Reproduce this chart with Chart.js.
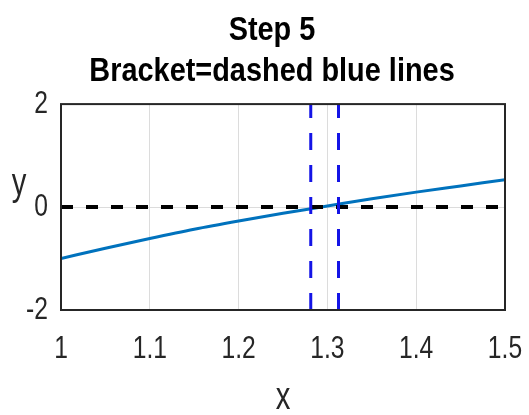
<!DOCTYPE html>
<html>
<head>
<meta charset="utf-8">
<script src="https://cdn.jsdelivr.net/npm/chart.js@4"></script>
<style>
  html, body { margin: 0; padding: 0; background: #fff; }
  #wrap { width: 529px; height: 415px; }
</style>
</head>
<body>
<div id="wrap"><canvas id="chart" width="529" height="415"></canvas></div>
<script>
// values
const xValues = [1, 1.05, 1.1, 1.15, 1.2, 1.25, 1.3, 1.35, 1.4, 1.45, 1.5]
const yValues = [-1.0, -0.8, -0.61, -0.43, -0.27, -0.12, 0.02, 0.16, 0.29, 0.41, 0.53]
const bracketX = [1.28125, 1.3125]
const zeroLineX = [1, 1.5]
const xTicks = [1, 1.1, 1.2, 1.3, 1.4, 1.5]
const xTickLabels = ['1', '1.1', '1.2', '1.3', '1.4', '1.5']
const yTicks = [-2, 0, 2]
const yTickLabels = ['-2', '0', '2']

const FONT = '"Liberation Sans", Arial, sans-serif'
const TEXT = '#262626'

const canvas = document.getElementById('chart')
const ctx = canvas.getContext('2d')

// the reference uses a narrow Helvetica; squeeze the text horizontally
const narrow = (c) => (c.font.indexOf('bold') >= 0 ? 0.85 : 0.77)
const origFill = CanvasRenderingContext2D.prototype.fillText
const origMeasure = CanvasRenderingContext2D.prototype.measureText
ctx.fillText = function (text, x, y) {
    this.save()
    this.translate(x, y)
    this.scale(narrow(this), 1)
    origFill.call(this, text, 0, 0)
    this.restore()
}
ctx.measureText = function (text) {
    const m = origMeasure.call(this, text)
    return {
        width: m.width * narrow(this),
        actualBoundingBoxAscent: m.actualBoundingBoxAscent,
        actualBoundingBoxDescent: m.actualBoundingBoxDescent
    }
}

const curve = xValues.map((x, i) => ({ x: x, y: yValues[i] }))
const zeroLine = zeroLineX.map(x => ({ x: x, y: 0 }))

const datasets = [
    {
        label: 'f',
        data: curve,
        borderColor: '#0072BD',
        borderWidth: 3,
        cubicInterpolationMode: 'monotone',
        order: 3
    },
    {
        label: 'zero',
        data: zeroLine,
        borderColor: '#000000',
        borderWidth: 4,
        borderDash: [12, 13],
        order: 2
    }
]
bracketX.forEach(bx => {
    datasets.push({
        label: 'bracket',
        data: [{ x: bx, y: -2 }, { x: bx, y: 2 }],
        borderColor: '#1414E6',
        borderWidth: 3,
        borderDash: [17, 15],
        order: 1
    })
})

// horizontal "y" label, box around the axes, title over the axes (MATLAB style)
const axesExtras = {
    id: 'axesExtras',
    afterLayout(chart) {
        if (chart.titleBlock) {
            chart.titleBlock.left = 39
            chart.titleBlock.right = chart.chartArea.right
        }
    },
    afterDatasetsDraw(chart) {
        const { ctx, chartArea } = chart
        ctx.save()
        ctx.strokeStyle = '#262626'
        ctx.lineWidth = 2
        ctx.strokeRect(chartArea.left, chartArea.top, chartArea.right - chartArea.left, chartArea.bottom - chartArea.top)
        ctx.fillStyle = TEXT
        ctx.font = '38px ' + FONT
        ctx.textAlign = 'center'
        ctx.textBaseline = 'alphabetic'
        ctx.fillText('y', 19, 195)
        ctx.restore()
    }
}

new Chart(ctx, {
    type: 'scatter',
    data: { datasets: datasets },
    plugins: [axesExtras],
    options: {
        responsive: false,
        animation: false,
        showLine: true,
        elements: { point: { radius: 0 } },
        layout: { padding: { top: 0.5, right: 24, left: 0, bottom: 0 } },
        plugins: {
            legend: { display: false },
            tooltip: { enabled: false },
            title: {
                display: true,
                text: ['Step 5', 'Bracket=dashed blue lines'],
                color: '#000',
                font: { family: FONT, size: 34, weight: 'bold', lineHeight: 1.2 },
                padding: { top: 10, bottom: 12 }
            }
        },
        scales: {
            x: {
                type: 'linear',
                min: 1,
                max: 1.5,
                afterBuildTicks: (scale) => { scale.ticks = xTicks.map(v => ({ value: v })) },
                afterFit: (scale) => {
                    scale.height = 105
                    scale.paddingLeft = 0
                    scale.paddingRight = 0
                },
                ticks: {
                    color: TEXT,
                    font: { family: FONT, size: 32 },
                    padding: 20,
                    maxRotation: 0,
                    autoSkip: false,
                    callback: (v) => xTickLabels[xTicks.indexOf(v)]
                },
                grid: { color: '#dcdcdc', lineWidth: 1, drawTicks: false },
                border: { display: false },
                title: {
                    display: true,
                    text: 'x',
                    color: TEXT,
                    font: { family: FONT, size: 38, lineHeight: 0.85 },
                    padding: { top: 0, bottom: 0 }
                }
            },
            y: {
                type: 'linear',
                min: -2,
                max: 2,
                afterBuildTicks: (scale) => { scale.ticks = yTicks.map(v => ({ value: v })) },
                afterFit: (scale) => { scale.width = 61 },
                ticks: {
                    color: TEXT,
                    font: { family: FONT, size: 32 },
                    padding: 13,
                    callback: (v) => yTickLabels[yTicks.indexOf(v)]
                },
                grid: { color: '#dcdcdc', lineWidth: 1, drawTicks: false },
                border: { display: false }
            }
        }
    }
})
</script>
</body>
</html>
